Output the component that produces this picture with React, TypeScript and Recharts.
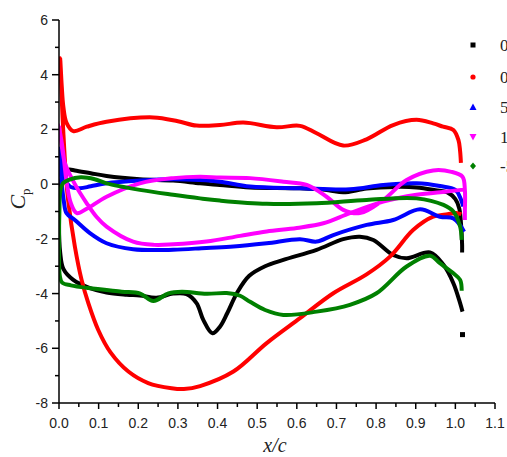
import React from 'react';
import { ComposedChart, Line, Scatter, XAxis, YAxis } from 'recharts';

type Pt = [number, number];

const xTicks = [0, 0.05, 0.1, 0.15, 0.2, 0.25, 0.3, 0.35, 0.4, 0.45, 0.5, 0.55, 0.6, 0.65, 0.7, 0.75, 0.8, 0.85, 0.9, 0.95, 1.0, 1.05, 1.1];
const yTicks = [-8, -7, -6, -5, -4, -3, -2, -1, 0, 1, 2, 3, 4, 5, 6];
const legendLabels = ['0°', '0.5°', '5°', '10°', '-5°'];
const colors = ['#000000', '#ff0000', '#0000ff', '#ff00ff', '#008000'];

const blackUpper: Pt[] = [[0.003,0.0],[0.012,0.4],[0.025,0.53],[0.04,0.5],[0.08,0.4],[0.12,0.3],[0.204,0.18],[0.288,0.13],[0.356,0.03],[0.406,-0.03],[0.482,-0.12],[0.608,-0.15],[0.68,-0.22],[0.717,-0.3],[0.776,-0.16],[0.85,-0.1],[0.902,-0.12],[0.95,-0.22],[0.98,-0.3],[1.0,-0.55],[1.01,-0.9],[1.014,-1.4],[1.017,-2.2],[1.017,-2.5]];
const blackLower: Pt[] = [[0.0,-1.5],[0.003,-2.5],[0.011,-3.1],[0.036,-3.5],[0.078,-3.8],[0.12,-3.96],[0.171,-4.04],[0.204,-4.07],[0.246,-4.15],[0.288,-4.0],[0.322,-4.02],[0.347,-4.35],[0.364,-4.96],[0.387,-5.45],[0.406,-5.21],[0.425,-4.7],[0.45,-3.95],[0.48,-3.35],[0.52,-3.0],[0.566,-2.77],[0.65,-2.4],[0.717,-2.01],[0.759,-1.92],[0.793,-2.04],[0.843,-2.59],[0.877,-2.71],[0.936,-2.5],[0.97,-2.95],[0.995,-3.62],[1.012,-4.35],[1.018,-4.66]];
const blackExtra: Pt[] = [[1.018,-5.5]];

const redUpper: Pt[] = [[0.003,4.6],[0.007,3.56],[0.011,2.83],[0.019,2.24],[0.036,1.94],[0.07,2.1],[0.12,2.28],[0.238,2.44],[0.3,2.3],[0.347,2.14],[0.406,2.16],[0.465,2.25],[0.549,2.08],[0.608,2.13],[0.65,1.86],[0.717,1.41],[0.776,1.64],[0.843,2.16],[0.902,2.35],[0.944,2.22],[0.969,2.1],[0.995,1.98],[1.008,1.6],[1.012,1.2],[1.014,0.78]];
const redLower: Pt[] = [[0.007,3.08],[0.011,1.87],[0.017,0.4],[0.023,-0.58],[0.04,-2.28],[0.057,-3.5],[0.074,-4.35],[0.099,-5.33],[0.13,-6.15],[0.175,-6.85],[0.225,-7.27],[0.284,-7.46],[0.315,-7.49],[0.356,-7.38],[0.44,-6.85],[0.524,-5.81],[0.608,-4.9],[0.692,-3.99],[0.776,-3.3],[0.835,-2.65],[0.894,-1.67],[0.944,-1.19],[0.98,-1.1],[1.005,-1.06],[1.015,-1.1]];

const blueUpper: Pt[] = [[0.0,1.3],[0.008,0.6],[0.015,0.2],[0.028,-0.09],[0.053,-0.15],[0.08,-0.08],[0.12,0.03],[0.204,0.13],[0.288,0.18],[0.356,0.15],[0.406,0.09],[0.482,-0.09],[0.608,-0.15],[0.734,-0.19],[0.818,-0.03],[0.902,0.03],[0.961,-0.07],[1.0,-0.21],[1.013,-0.52],[1.02,-0.82]];
const blueLower: Pt[] = [[0.005,0.3],[0.012,-0.6],[0.019,-1.06],[0.04,-1.31],[0.078,-1.79],[0.12,-2.16],[0.187,-2.38],[0.288,-2.4],[0.372,-2.33],[0.44,-2.28],[0.524,-2.16],[0.608,-2.01],[0.65,-2.1],[0.692,-1.86],[0.776,-1.49],[0.843,-1.31],[0.911,-0.92],[0.961,-1.19],[0.995,-1.25],[1.012,-1.5],[1.022,-1.74]];

const magentaUpper: Pt[] = [[0.0,2.16],[0.01,1.2],[0.02,0.0],[0.03,-0.7],[0.045,-1.06],[0.07,-0.9],[0.12,-0.46],[0.204,0.03],[0.288,0.22],[0.356,0.27],[0.406,0.24],[0.482,0.22],[0.566,0.09],[0.625,-0.03],[0.675,-0.46],[0.717,-0.94],[0.759,-1.06],[0.818,-0.58],[0.877,0.15],[0.944,0.5],[0.99,0.45],[1.018,0.27],[1.024,-0.21],[1.024,-1.0],[1.024,-1.31]];
const magentaLower: Pt[] = [[0.008,1.3],[0.015,0.76],[0.04,0.0],[0.07,-0.7],[0.095,-1.2],[0.12,-1.55],[0.187,-2.1],[0.24,-2.22],[0.288,-2.2],[0.372,-2.1],[0.457,-1.89],[0.524,-1.73],[0.6,-1.6],[0.667,-1.43],[0.734,-1.06],[0.818,-0.64],[0.902,-0.39],[0.978,-0.27],[1.02,-0.2]];

const greenUpper: Pt[] = [[0.001,-1.0],[0.003,-0.3],[0.01,0.03],[0.025,0.16],[0.055,0.25],[0.09,0.18],[0.12,0.03],[0.204,-0.21],[0.288,-0.39],[0.356,-0.52],[0.406,-0.6],[0.524,-0.72],[0.65,-0.7],[0.776,-0.58],[0.902,-0.52],[0.97,-0.76],[0.995,-1.0],[1.012,-1.55],[1.016,-2.04]];
const greenLower: Pt[] = [[0.0,-2.5],[0.002,-3.35],[0.008,-3.6],[0.03,-3.7],[0.074,-3.8],[0.158,-3.93],[0.205,-4.0],[0.238,-4.27],[0.276,-3.99],[0.31,-3.93],[0.372,-4.01],[0.423,-3.98],[0.457,-4.08],[0.482,-4.3],[0.52,-4.6],[0.566,-4.78],[0.65,-4.66],[0.734,-4.41],[0.801,-3.99],[0.877,-3.01],[0.936,-2.62],[0.961,-2.89],[0.995,-3.26],[1.012,-3.5],[1.016,-3.9]];

const loop = (upper: Pt[], lower: Pt[]) =>
  [...upper.slice().reverse(), ...lower].map(([x, cp]) => ({ x, cp }));

const series = [
  { name: legendLabels[0], color: colors[0], data: loop(blackUpper, blackLower) },
  { name: legendLabels[1], color: colors[1], data: loop(redUpper, redLower) },
  { name: legendLabels[2], color: colors[2], data: loop(blueUpper, blueLower) },
  { name: legendLabels[3], color: colors[3], data: loop(magentaUpper, magentaLower) },
  { name: legendLabels[4], color: colors[4], data: loop(greenUpper, greenLower) },
];

// centripetal Catmull-Rom curve factory (no overshoot on uneven spacing)
const centripetal = (context: any) => {
  let pts: [number, number][] = [];
  const seg = (p0: number[], p1: number[], p2: number[], p3: number[]) => {
    const d = (a: number[], b: number[]) => Math.hypot(b[0] - a[0], b[1] - a[1]);
    const l01 = Math.sqrt(d(p0, p1)), l12 = Math.sqrt(d(p1, p2)), l23 = Math.sqrt(d(p2, p3));
    const l01_2 = l01 * l01, l12_2 = l12 * l12, l23_2 = l23 * l23;
    let x1 = p1[0], y1 = p1[1], x2 = p2[0], y2 = p2[1];
    if (l01 > 1e-6) {
      const a = 2 * l01_2 + 3 * l01 * l12 + l12_2;
      const n = 3 * l01 * (l01 + l12);
      x1 = (p1[0] * a - p0[0] * l12_2 + p2[0] * l01_2) / n;
      y1 = (p1[1] * a - p0[1] * l12_2 + p2[1] * l01_2) / n;
    }
    if (l23 > 1e-6) {
      const b = 2 * l23_2 + 3 * l23 * l12 + l12_2;
      const m = 3 * l23 * (l23 + l12);
      x2 = (p2[0] * b + p1[0] * l23_2 - p3[0] * l12_2) / m;
      y2 = (p2[1] * b + p1[1] * l23_2 - p3[1] * l12_2) / m;
    }
    context.bezierCurveTo(x1, y1, x2, y2, p2[0], p2[1]);
  };
  return {
    areaStart() {},
    areaEnd() {},
    lineStart() { pts = []; },
    lineEnd() {
      if (!pts.length) return;
      context.moveTo(pts[0][0], pts[0][1]);
      for (let i = 0; i < pts.length - 1; i++) {
        const p0 = pts[i - 1] || pts[i];
        const p3 = pts[i + 2] || pts[i + 1];
        seg(p0, pts[i], pts[i + 1], p3);
      }
    },
    point(x: number, y: number) { pts.push([+x, +y]); },
  };
};

const isMajorX = (v: number) => Math.abs(v * 10 - Math.round(v * 10)) < 1e-6;

const XTick = (props: any) => {
  const { x, y, payload } = props;
  const v = payload.value as number;
  const major = isMajorX(v);
  return (
    <g>
      <line x1={x} x2={x} y1={y} y2={y + (major ? 6 : 4)} stroke="#000" strokeWidth={1.5} />
      {major && (
        <text x={x} y={y + 25} textAnchor="middle" fontFamily="'Liberation Sans', Arial, sans-serif" fontSize={14} fill="#222">
          {v.toFixed(1)}
        </text>
      )}
    </g>
  );
};

const YTick = (props: any) => {
  const { x, y, payload } = props;
  const v = payload.value as number;
  const major = Math.round(v) % 2 === 0;
  return (
    <g>
      <line x1={x - (major ? 7 : 4)} x2={x} y1={y} y2={y} stroke="#000" strokeWidth={1.5} />
      {major && (
        <text x={x - 11} y={y + 5} textAnchor="end" fontFamily="'Liberation Sans', Arial, sans-serif" fontSize={14} fill="#222">
          {v}
        </text>
      )}
    </g>
  );
};

const markers = [
  (c: string) => <rect x={-2.5} y={-2.5} width={5} height={5} fill={c} />,
  (c: string) => <circle r={2.6} fill={c} />,
  (c: string) => <polygon points="0,-3.5 3.5,3 -3.5,3" fill={c} />,
  (c: string) => <polygon points="0,3.5 3.5,-3 -3.5,-3" fill={c} />,
  (c: string) => <polygon points="0,-3.5 3,0 0,3.5 -3,0" fill={c} />,
];
const legendY = [45, 77, 107, 137, 166];

export default function App() {
  return (
    <div style={{ position: 'absolute', left: 0, top: 0, width: 507, height: 457, overflow: 'hidden', background: '#fff' }}>
      <ComposedChart width={507} height={457} margin={{ top: 20, right: 12, left: 19, bottom: 24 }}>
        <XAxis
          type="number"
          dataKey="x"
          domain={[0, 1.1]}
          ticks={xTicks}
          interval={0}
          allowDataOverflow
          tickSize={0}
          tickMargin={0}
          height={30}
          stroke="#000"
          strokeWidth={1.5}
          tick={<XTick />}
        />
        <YAxis
          type="number"
          dataKey="cp"
          domain={[-8, 6]}
          ticks={yTicks}
          interval={0}
          allowDataOverflow
          tickSize={0}
          tickMargin={0}
          width={40}
          stroke="#000"
          strokeWidth={1.5}
          tick={<YTick />}
        />
        {series.map((s) => (
          <Line
            key={s.name}
            data={s.data}
            dataKey="cp"
            type={centripetal as any}
            stroke={s.color}
            strokeWidth={4}
            strokeLinejoin="round"
            dot={false}
            activeDot={false}
            isAnimationActive={false}
          />
        ))}
        <Scatter
          data={blackExtra.map(([x, cp]) => ({ x, cp }))}
          dataKey="cp"
          fill="#000"
          shape={(p: any) => <rect x={p.cx - 2.5} y={p.cy - 2.5} width={5} height={5} fill="#000" />}
          isAnimationActive={false}
        />
      </ComposedChart>
      <svg width={507} height={457} style={{ position: 'absolute', left: 0, top: 0, pointerEvents: 'none' }}>
        <text x={275} y={452} textAnchor="middle" fontFamily="'Liberation Serif', 'Times New Roman', serif" fontStyle="italic" fontSize={20} fill="#222">
          x/c
        </text>
        <text transform="rotate(-90, 25, 199)" x={25} y={199} textAnchor="middle" fontFamily="'Liberation Serif', 'Times New Roman', serif" fontSize={22} fill="#222">
          <tspan fontStyle="italic">C</tspan>
          <tspan fontSize={13} dy={5}>p</tspan>
        </text>
        {series.map((s, i) => (
          <g key={s.name}>
            <g transform={`translate(473, ${legendY[i]})`}>{markers[i](s.color)}</g>
            <text x={500} y={legendY[i] + 6} fontFamily="'Liberation Serif', 'Times New Roman', serif" fontSize={17} fill="#222">
              {s.name}
            </text>
          </g>
        ))}
      </svg>
    </div>
  );
}
